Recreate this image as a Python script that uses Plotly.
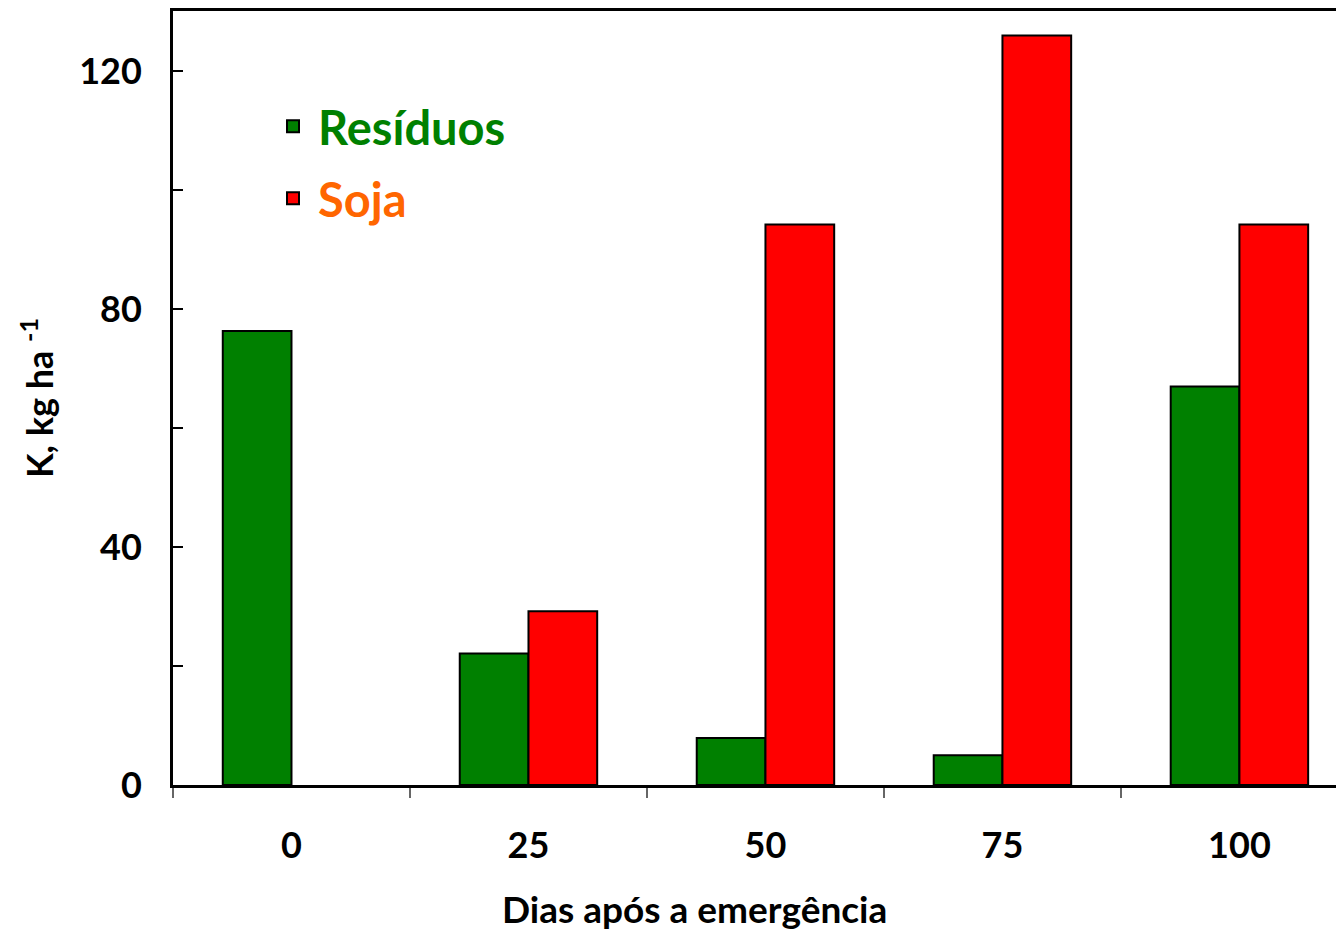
import plotly.graph_objects as go

categories = ["0", "25", "50", "75", "100"]
residuos = [76.3, 22.1, 7.9, 5.0, 67.0]
soja = [None, 29.2, 94.2, 126.0, 94.2]
y_ticks = [0, 40, 80, 120]
x_title = "Dias após a emergência"

FONT = "Lato"
x = list(range(len(categories)))

fig = go.Figure()
fig.add_trace(go.Bar(
    x=x, y=residuos, legendgroup="r",
    name="<span style='color:#008000'>Resíduos</span>",
    marker=dict(color="#008000", line=dict(color="black", width=2)),
))
fig.add_trace(go.Bar(
    x=x, y=soja, legendgroup="s",
    name="<span style='color:#FF6600'>Soja</span>",
    marker=dict(color="#FF0000", line=dict(color="black", width=2)),
))

fig.update_layout(
    width=1344, height=930,
    margin=dict(l=165, r=0, t=1, b=153),
    paper_bgcolor="white", plot_bgcolor="white",
    barmode="group", bargap=0.42, bargroupgap=0,
    font=dict(family=FONT, size=36, color="black", weight="bold"),
    showlegend=True,
    legend=dict(x=0.0806, y=0.899, xanchor="left", yanchor="top",
                font=dict(family=FONT, size=47, weight="bold"),
                bgcolor="rgba(0,0,0,0)", tracegroupgap=8, itemwidth=40),
    xaxis=dict(
        range=[-0.5, 4.475],
        tickvals=x, ticktext=categories, ticks="",
        ticklabelstandoff=27,
        minor=dict(ticks="outside", tick0=-0.5, dtick=1, ticklen=10,
                   tickcolor="#666", tickwidth=2),
        showline=True, linecolor="black", linewidth=3, mirror=True,
        showgrid=False, zeroline=False,
    ),
    yaxis=dict(
        range=[0, 130.1],
        tickvals=y_ticks, ticktext=[str(v) for v in y_ticks],
        ticks="inside", ticklen=10, tickwidth=2, tickcolor="black",
        ticklabelstandoff=21,
        minor=dict(ticks="inside", dtick=20, tick0=0, ticklen=10,
                   tickwidth=2, tickcolor="black"),
        showline=True, linecolor="black", linewidth=3,
        showgrid=False, zeroline=False,
        title=dict(text="K, kg ha <sup>-1</sup>", standoff=15,
                   font=dict(family=FONT, size=36, weight="bold")),
    ),
    annotations=[dict(
        text=x_title, xref="paper", yref="paper",
        x=0.4427, y=-0.1595, xanchor="center", yanchor="middle",
        showarrow=False, font=dict(family=FONT, size=37, weight="bold"),
    )],
)

fig.write_html("out.html")
